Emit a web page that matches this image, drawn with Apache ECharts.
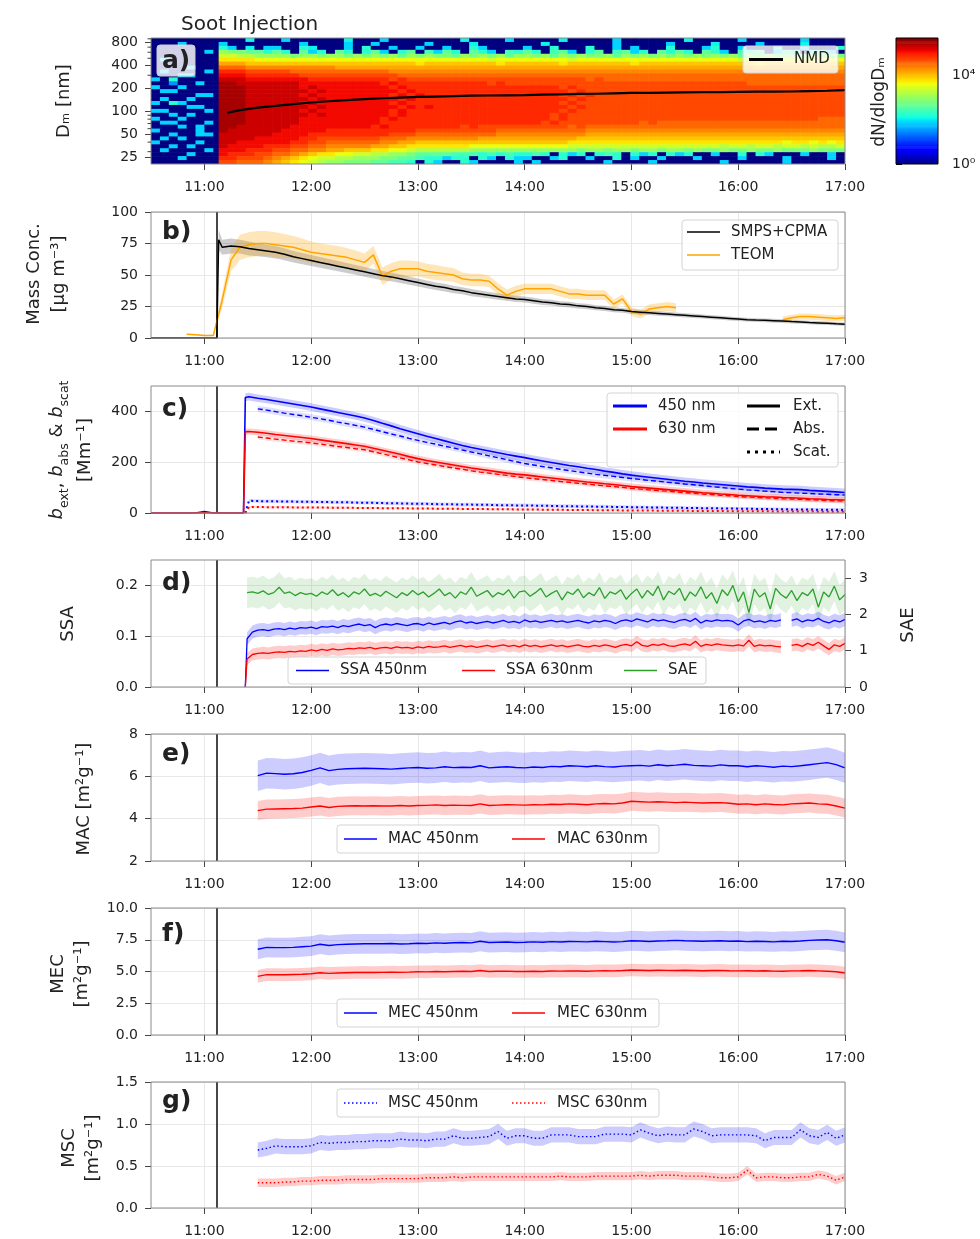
<!DOCTYPE html>
<html><head><meta charset="utf-8"><title>Soot injection</title>
<script src="https://cdn.jsdelivr.net/npm/echarts@6/dist/echarts.min.js"></script>
<style>html,body{margin:0;padding:0;background:#fff;}#chart{width:980px;height:1239px;}</style>
</head><body><div id="chart"></div>
<script>
// ================= DATA =================
const timeTickHours = [11, 12, 13, 14, 15, 16, 17];
const injectionTime = '11:07';

// a) dN/dlogDm map. Level chars: index/30 of the colour range (log10 value = index/30 * colorMaxLog).
// Rows from largest to smallest Dm; each row split by scan blocks:
// [10:30-11:05 (7 scans), 11:05-11:08 (1), then 70 scans 11:08-17:00: 6, 10, 18, 18, 18]
const heatPreStart = '10:30';
const heatPreStepMin = 5;
const heatGapEnd = '11:08';
const heatEnd = '17:00';
const heatSegmentScans = [7, 1, 6, 10, 18, 18, 18];
const sizeMinNm = 20.7;
const sizeMaxNm = 922;
const colorMaxLog = 5.66;
const levelChars = '0123456789ABCDEFGHIJKLMNOPQRSTU';
const heatLevels = [
 ['0000000','0','000B00','0A000000B0','00A00000000B0000A0','0000B00000A0000000','B00000A000000A0000'],
 ['000A000','0','A00000','000A0000A0','0A00000A0000B00000','00B0000000A00000A0','000B0000A0000B0000'],
 ['0000000','0','CA0B0A','A00CB000A0','C00A00A00A00CA0000','A00C000C00A0A000C0','00AC00A000C00A000C'],
 ['000000A','0','GFFEEC','EC0EAC0EC0','CEA0CE0DAEC0ECA0DC','EC0DEA0CE0DEAC0ECE','C0ECA0DCE0AEC0CEA0'],
 ['0000000','0','IIHHGG','GGFGGFGGFG','FGFGEGFGFFEGFGFGEG','GFGEGFGFFGEGFGFGFG','FGFGFGEGFGFFGEGFGF'],
 ['0A00000','0','KKKKJJ','JJJJJJJJJJ','JJJJJJJJJJJJJJIJJJ','JJJJJIJJJJJJJJJJJJ','JJJJJJIJJJJJJJJJJJ'],
 ['0000000','0','MMMLLL','LLLLLLLLLL','LLLLLLKLLLLLLLLKLL','LLLLKLLLLLLLKLLLLL','LLLLLLLLKLLLLLLLLL'],
 ['0000A00','0','OOONNN','NNNNNNNMMM','MMMMMMMMMMMMMMMMMM','MMMMMMMMMMMMMMMMMM','MMMMMMMMMMMMMMMMMM'],
 ['0A0000A','0','QQQPPP','PPOOOOOOOO','OOONNNNNNNNNNNNNNN','NNNNNNNNNNNNNNNNNN','NNNNNNNNNNNNNNNNNN'],
 ['000AA00','0','RRRQQQ','QQQPPPPPPP','PPPPOOOOOOOOOOOOOO','OOOOOOOOOOOOOOOOOO','OOOOOOOOOOOOOOOOOO'],
 ['A0C0000','0','SSSRRR','RRRRQQQQQQ','QQQPQPPPPPPPPPPPPP','PPPPPPPOPOOOOOOOOO','OOOOOOOOOOOOOOOOOO'],
 ['00800A0','0','TTSSSS','SSSRRRRRRR','RRQRQQQQQQQQQQPQPP','PPPPPPPPPPPPPPPPPP','PPPPPPPOOOOOOOOOOO'],
 ['A00A000','0','TTTSSS','SSSRSRRRRR','RRRQRQQQQQQQQQQQQQ','QQQQPQPPPPPPPPPPPP','PPPPPPPPPPPPPPPPPP'],
 ['0AA0000','0','TTTSSS','SSSSRSRRRR','RRRRQRQQQQQQQQQQQQ','QQQQQPQPPPPPPPPPPP','PPPPPPPPPPPPPPPPPP'],
 ['00000AA','0','TTTSSS','SSSRSRRRRR','RRRQRQRQQQQQQQQQQQ','QQQQPQPQPPPPPPPPPP','PPPPPPPPPPPPPPPPPP'],
 ['0A00A00','0','TTTSSS','SSSSRSRRRR','RRRRQRQQQQQQQQQQQQ','QQQQQPQPPPPPPPPPPP','PPPPPPPPPPPPPPPPPP'],
 ['A0CA000','0','TTTSSS','SSSRSRRRRR','RRRQRQQQQQQQQQQQQQ','QQQQPQPPPPPPPPPPPP','PPPPPPPPPPPPPPPPPP'],
 ['0000AA0','0','TTTSSS','SSSSRSRRRR','RRRRQRQRQQQQQQQQQQ','QQQQQPQPPPPPPPPPPP','PPPPPPPPPPPPPPPPPP'],
 ['AA0000A','0','TTTSSS','SSSRSRRRRR','RRRQRQQQQQQQQQQQQQ','QQQQPQPPPPPPPPPPPP','PPPPPPPPPPPPPPPPPP'],
 ['00A0A00','0','TTTSSS','SSSSRSRRRR','RRRQRQQQQQQQQQQQQQ','QQQPQPPPPPPPPPPPPP','PPPPPPPPPPPPPPPPPP'],
 ['A00A000','0','TTTSSS','SSSRRRRRRR','RRQRQQQQQQQQQQQQQQ','QQQPQPPPPPPPPPPPPP','PPPPPPPPPPPPPPPOOO'],
 ['0AA000A','0','TTTSSS','SSSRRRRRRR','RRQQQQQQQQQQQQQQQQ','QQPQPPPPPPPPPOPOOO','OOOOOOOOOOOOOOOOOO'],
 ['000A0A0','0','TTSSSS','SSRRRRRRRR','RQRQQQQQQQQPQPPPPP','PPPPPOPOOOOOOOOOOO','OOOOOOOOOOOOOOOOOO'],
 ['A0000A0','0','TSSSSS','SRRRRRQQQQ','QQQQQQPPPPPPPPPOOO','OOOOOOONNNNNNNNNNN','NNNNNNNNNNNNNNNNNN'],
 ['00A00AA','0','SSSSSS','RRRRQQQQQQ','QQQPPPOOOOOOOOONNN','NNNNNNNMMMMMMMMMMM','MMMMMMMMMMMMMMMMMM'],
 ['0A0A000','0','SSSSRR','RRRQQPPPPP','PPOOONNNNNNNNMMMMM','MMMMMMLLLLLLLLLLLL','LLLLLLLLLLLLLLLLLL'],
 ['A0000A0','0','SSRRRR','RRQQPPOOOO','OONNMMLLLLLLLLLLLL','LLLLLKKKKKKKKKKKKK','KKKKKKKKKKKJKKJKJK'],
 ['00A0A00','0','SRRRRQ','QQPPOONNNN','NMMLLKKKKKKKJJJJJJ','JJJJJIIIIIIIIIIIII','IIIIHIIHIIHIIHIHHI'],
 ['0A0000A','0','RRRQQQ','PPOONNMMLL','LKKJJIHHHHHHGGGGGG','GGGGGGFGGFGGFGGFGG','FGFFGFFGFFGFFFGFFF'],
 ['0000A00','0','RQQQPP','OONMLKKJJI','IHHGGFEEEEDDDCDCDC','CDC0CAC0CDC0CAC0CA','C00A00C0CA000A00A0'],
 ['000A000','0','QQPPPO','NMLKJIIHHG','GGFFEEDCCACC0CA0CA','A00AC00A00C0A00A00','0A0000A0000A0000A0'],
 ['0000000','0','PPOOON','MLKJIHGGFF','FEEDDC0CA00CA0000A','0A0000000A0000A000','0000A000000A000000']
];
const sizeTickLabels = [25, 50, 100, 200, 400, 800];
const sizeMinorTicks = [30, 40, 60, 70, 80, 90, 300, 500, 600, 700, 900];
const colorbarTicks = [0, 4];
const nmdFirstTime = '11:13';
const nmdFirst = 97;
const nmdStart = '11:20';
const nmdStepMin = 10;
const nmdNm = [105,113,119,126,
  132,137,142,146,150,153, 156,158,160,162,163,164, 165,167,169,171,172,174,
  176,177,178,179,180,181, 182,183,183,184,186,188, 192];

// b) mass concentration [ug m-3]
const smpsPreTimes = ['10:30', '11:07', '11:08'];
const smpsPre = [0, 0, 78];
const smpsPreSd = [0, 0, 8];
const smpsStart = '11:10';
const smpsStepMin = 5;
const smpsMass = [72,73,72.5,71,70,69,68,66.5,64.5,63,
  61.5,60,58.5,57,55.5,54,52.5,51,49.5,48.5,47,45.5,
  44,42.5,41,40,38.5,37.5,36,35,34,33,32,31,
  30.5,29.5,28.5,28,27,26.5,25.5,25,24,23.5,22.5,22,
  21,20.5,20,19.5,19,18.5,18,17.5,17,16.5,16,15.5,
  15,14.5,14.2,14,13.7,13.4,13,12.7,12.3,12,11.7,11.3, 11];
const smpsMassSd = [6,6,5.5,5.5,5.2,5,5,4.8,4.6,4.5,
  4.4,4.3,4.2,4.1,4,3.9,3.8,3.7,3.6,3.5,3.4,3.3,
  3.2,3.1,3,3,2.9,2.8,2.8,2.7,2.6,2.6,2.5,2.5,
  2.4,2.4,2.3,2.3,2.2,2.2,2.1,2.1,2,2,2,1.9,
  1.9,1.9,1.8,1.8,1.8,1.7,1.7,1.7,1.6,1.6,1.6,1.6,
  1.5,1.5,1.5,1.5,1.5,1.4,1.4,1.4,1.4,1.4,1.3,1.3, 1.3];
const teomStartA = '10:50';
const teomMassA = [3,2.5,
  2,2,30,62,72,74,75,75,74,73,72,70,
  68,67,66,65,64,62,60,66,49,53,55,55,
  55,53,52,51,50,47,46,46,45,39,34,37,
  39,39,39,39,37,35,35,34,34,34,27,31,
  21,19,23,24,25,24];
const teomSdA = [0.5,0.5,
  0.5,0.5,6,9,10,10,10,10,10,9.5,9,9,
  8.5,8,8,8,7.5,7.5,7,7,7,6.5,6.5,6.5,
  6,6,6,5.5,5.5,5,5,5,4.5,4.5,4.5,4.5,
  4,4,4,4,4,4,4,3.8,3.8,3.8,3.5,3.5,
  3.5,3.5,3.5,3.5,3.5,3.5];
const teomStartB = '16:25';
const teomMassB = [14.5,16,17,17,16.5,16,15.5,16];
const teomSdB = 2.5;

// c) extinction / absorption / scattering [Mm-1]
const cPreTimes = ['10:30','10:55','11:00','11:05','11:22','11:23'];
const bExt450Pre = [0,0,6,0,0,455];
const bExt630Pre = [0,0,1,0,0,320];
const cStart = '11:25';
const cAbsStart = '11:30';
const cStepMin = 5;
const bExt450 = [458,452,447,441,435,429,423,
  417,410,403,396,389,382,374,364,353,343,332,322,
  312,302,293,284,275,266,258,251,244,237,230,224,
  218,211,205,199,193,187,182,176,171,165,160,154,
  149,145,141,137,133,129,125,122,118,115,112,109,
  106,103,101,98,96,94,93,92,89,87,85,83, 81];
const bAbs450 = [410,405,399,393,388,383,
  377,371,365,358,352,345,338,329,320,311,303,294,
  286,278,271,263,256,248,240,233,225,218,210,202,
  195,189,183,178,172,167,162,157,152,148,144,140,
  136,132,128,125,121,118,114,111,108,104,101,97,
  94,91,89,86,84,81,80,78,77,75,74,72, 71];
const bExt630 = [321,318,314,309,305,301,297,
  293,288,283,278,273,268,263,255,247,239,231,222,
  214,207,201,195,189,183,177,172,167,162,157,153,
  150,146,142,138,134,130,126,122,119,115,112,108,
  104,101,98,95,92,89,86,83,80,78,75,73,
  70,68,66,64,63,61,60,58,56,55,53,52, 51];
const bAbs630 = [299,295,291,287,283,280,
  276,271,267,262,258,253,249,241,233,225,217,209,
  201,195,189,183,177,172,166,161,157,152,148,143,
  139,135,132,128,124,121,117,114,110,107,104,101,
  97,94,91,88,86,83,80,78,75,73,70,68,
  65,63,61,60,58,56,55,54,52,51,49,48, 47];
const bScat450 = [48,47,46,46,45,45,44,
  44,43,43,42,42,41,40,40,39,38,38,37,
  36,36,35,34,34,33,33,32,32,31,31,30,
  30,29,29,28,27,27,26,26,25,25,24,24,
  23,23,22,22,21,21,20,20,19,19,18,18,
  17,17,16,16,15,15,14,14,14,13,13,13, 12];
const bScat630 = [24,24,23,23,23,22,22,
  22,22,21,21,21,20,20,20,19,19,19,18,
  18,18,17,17,17,16,16,16,15,15,15,14,
  14,14,13,13,13,12,12,12,11,11,11,10,
  10,10,10,9,9,9,9,8,8,8,8,7,
  7,7,7,7,6,6,6,6,6,5,5,5, 5];
const sdExt450 = 15, sdAbs450 = 12, sdExt630 = 12, sdAbs630 = 10, sdScat450 = 7, sdScat630 = 5;

// d) SSA and SAE
const ssaPreTimes = ['11:23', '11:24'];
const ssa450Pre = [0, 0.095];
const ssa630Pre = [0, 0.055];
const saeFirstTime = '11:24';
const saeFirst = 2.60;
const dStart = '11:27';
const dStepMin = 3;
const ssa450 = [0.108,0.112,0.113,0.111,0.114,0.115,0.113,0.116,0.114,0.117,0.116,
  0.118,0.115,0.119,0.118,0.120,0.117,0.121,0.119,0.122,0.124,0.121,0.123,0.117,0.122,0.124,0.122,0.125,0.123,0.121,0.124,
  0.125,0.122,0.126,0.123,0.125,0.127,0.124,0.128,0.130,0.126,0.128,0.125,0.127,0.129,0.126,0.128,0.131,0.127,0.129,0.126,
  0.132,0.128,0.130,0.127,0.129,0.131,0.128,0.130,0.127,0.129,0.131,0.128,0.126,0.130,0.128,0.131,0.129,0.125,0.130,0.132,
  0.129,0.134,0.131,0.128,0.133,0.130,0.132,0.129,0.127,0.131,0.133,0.129,0.135,0.126,0.131,0.129,0.132,0.130,0.131,0.129,
  0.122,0.130,0.133,0.128,0.130,0.127,0.131,0.129,0.132,null,0.131,0.134,0.128,0.132,0.130,0.135,0.129,0.126,0.131,0.128,
  0.133];
const ssa630 = [0.064,0.066,0.067,0.066,0.068,0.069,0.068,0.070,0.069,0.071,0.070,
  0.073,0.071,0.074,0.072,0.075,0.073,0.074,0.076,0.075,0.077,0.076,0.078,0.075,0.077,0.078,0.076,0.079,0.077,0.078,0.076,
  0.079,0.077,0.080,0.078,0.079,0.081,0.078,0.080,0.082,0.079,0.081,0.078,0.080,0.082,0.079,0.081,0.083,0.080,0.082,0.079,
  0.083,0.080,0.082,0.079,0.081,0.083,0.080,0.082,0.079,0.081,0.083,0.080,0.079,0.082,0.080,0.083,0.081,0.078,0.082,0.084,
  0.081,0.089,0.082,0.080,0.084,0.082,0.085,0.081,0.080,0.083,0.085,0.082,0.090,0.080,0.084,0.082,0.085,0.083,0.082,0.081,
  0.083,0.081,0.092,0.080,0.083,0.081,0.082,0.080,0.079,null,0.082,0.084,0.080,0.086,0.082,0.088,0.081,0.074,0.083,0.080,
  0.086];
const sae = [2.62,2.58,2.65,2.55,2.60,2.75,2.58,2.62,2.52,2.60,2.55,
  2.58,2.50,2.62,2.55,2.68,2.52,2.60,2.48,2.62,2.56,2.70,2.52,2.58,2.50,2.64,2.55,2.46,2.60,2.52,2.66,
  2.54,2.62,2.48,2.58,2.70,2.52,2.60,2.45,2.62,2.55,2.75,2.50,2.58,2.66,2.48,2.60,2.54,2.68,2.45,2.62,
  2.65,2.50,2.60,2.72,2.48,2.58,2.66,2.40,2.62,2.55,2.70,2.46,2.60,2.52,2.74,2.44,2.62,2.56,2.68,2.42,
  2.58,2.70,2.45,2.66,2.52,2.78,2.40,2.64,2.55,2.72,2.38,2.62,2.50,2.76,2.44,2.60,2.30,2.68,2.52,2.80,
  2.35,2.62,2.05,2.70,2.48,2.60,2.15,2.72,2.55,2.45,2.66,2.38,2.60,2.52,2.70,2.20,2.62,2.48,2.78,2.40,
  2.55];
const sdSsa450 = 0.013, sdSsa630 = 0.012, sdSae = 0.42;

// e) f) g) mass cross sections [m2 g-1]
const efgStart = '11:30';
const efgStepMin = 5;
const mac450 = [6.03,6.15,6.13,6.1,6.12,6.18,
  6.28,6.4,6.27,6.33,6.36,6.37,6.38,6.37,6.36,6.34,6.37,6.4,
  6.42,6.38,6.4,6.45,6.41,6.43,6.42,6.5,6.4,6.43,6.45,6.42,
  6.4,6.44,6.42,6.47,6.45,6.5,6.48,6.45,6.5,6.46,6.44,6.48,
  6.5,6.52,6.48,6.55,6.5,6.53,6.57,6.52,6.5,6.48,6.54,6.5,
  6.5,6.45,6.5,6.47,6.43,6.48,6.46,6.5,6.55,6.6,6.65,6.55, 6.4];
const mac630 = [4.38,4.45,4.46,4.47,4.48,4.5,
  4.55,4.6,4.53,4.58,4.6,4.61,4.6,4.61,4.6,4.6,4.62,4.6,
  4.62,4.63,4.65,4.62,4.64,4.63,4.62,4.7,4.62,4.64,4.66,4.65,
  4.64,4.66,4.65,4.68,4.67,4.7,4.68,4.66,4.7,4.72,4.7,4.74,
  4.82,4.8,4.78,4.8,4.78,4.76,4.78,4.76,4.74,4.75,4.76,4.73,
  4.68,4.7,4.66,4.7,4.67,4.65,4.7,4.72,4.74,4.7,4.68,4.6, 4.5];
const mec450 = [6.75,6.9,6.88,6.88,6.9,6.95,
  7.0,7.15,7.05,7.12,7.15,7.17,7.18,7.18,7.18,7.2,7.16,7.18,
  7.22,7.2,7.25,7.22,7.26,7.28,7.25,7.38,7.28,7.3,7.32,7.28,
  7.3,7.33,7.3,7.35,7.32,7.36,7.35,7.33,7.38,7.35,7.32,7.35,
  7.42,7.4,7.36,7.4,7.42,7.45,7.42,7.4,7.38,7.4,7.42,7.38,
  7.4,7.35,7.38,7.36,7.33,7.38,7.36,7.4,7.45,7.48,7.5,7.42, 7.3];
const mec630 = [4.62,4.75,4.75,4.74,4.76,4.78,
  4.82,4.9,4.85,4.88,4.9,4.92,4.93,4.92,4.93,4.95,4.93,4.95,
  4.98,4.97,5.0,4.98,5.0,5.02,5.0,5.08,5.0,5.02,5.03,5.0,
  5.0,5.02,5.0,5.04,5.03,5.05,5.04,5.02,5.05,5.06,5.05,5.08,
  5.12,5.1,5.08,5.1,5.09,5.08,5.1,5.08,5.06,5.08,5.09,5.06,
  5.05,5.06,5.04,5.06,5.03,5.02,5.05,5.06,5.08,5.05,5.02,4.98, 4.88];
const msc450 = [0.69,0.71,0.74,0.73,0.73,0.73,
  0.74,0.78,0.77,0.78,0.78,0.79,0.79,0.80,0.80,0.80,0.82,0.81,
  0.81,0.80,0.82,0.82,0.86,0.83,0.83,0.84,0.85,0.91,0.83,0.86,
  0.86,0.83,0.83,0.87,0.87,0.87,0.85,0.85,0.85,0.88,0.88,0.88,
  0.87,0.93,0.89,0.86,0.88,0.87,0.87,0.94,0.91,0.86,0.87,0.87,
  0.87,0.87,0.86,0.80,0.84,0.84,0.84,0.93,0.86,0.84,0.90,0.83, 0.87];
const msc630 = [0.30,0.30,0.30,0.31,0.31,0.32,
  0.32,0.33,0.33,0.33,0.34,0.34,0.34,0.34,0.35,0.35,0.35,0.35,
  0.35,0.36,0.36,0.36,0.37,0.36,0.37,0.37,0.37,0.37,0.37,0.37,
  0.37,0.37,0.37,0.37,0.38,0.37,0.37,0.37,0.38,0.38,0.38,0.38,
  0.38,0.39,0.38,0.39,0.39,0.39,0.38,0.38,0.38,0.37,0.36,0.36,
  0.37,0.45,0.36,0.37,0.37,0.36,0.36,0.37,0.37,0.40,0.38,0.33, 0.37];
const sdMac450 = 0.72, sdMac630 = 0.45, sdMec450 = 0.78, sdMec630 = 0.5, sdMsc450 = 0.09, sdMsc630 = 0.05;

// ================= BUILD =================
const FONT = '"DejaVu Sans", "Liberation Sans", sans-serif';
const BLUE = '#0000ff', RED = '#ff0000', GREEN = '#2ca02c', ORANGE = '#ffa500', BLACK = '#000000';
function hm(s) { const p = s.split(':'); return +p[0] + (+p[1]) / 60; }
function timeGrid(start, stepMin, n) { const t0 = hm(start); const a = []; for (let i = 0; i < n; i++) a.push(t0 + i * stepMin / 60); return a; }
function zip(times, vals) { return vals.map((v, i) => [times[i], v]); }
function pm(vals, sd, sign) { return vals.map((v, i) => v == null ? null : v + sign * (Array.isArray(sd) ? sd[i] : sd)); }

function jet(t) {
  t = Math.max(0, Math.min(1, t));
  function seg(p) { for (let i = 1; i < p.length; i++) { if (t <= p[i][0]) { const a = p[i - 1], b = p[i]; return a[1] + (b[1] - a[1]) * (t - a[0]) / (b[0] - a[0]); } } return p[p.length - 1][1]; }
  const r = seg([[0, 0], [0.35, 0], [0.66, 1], [0.89, 1], [1, 0.5]]);
  const g = seg([[0, 0], [0.125, 0], [0.375, 1], [0.64, 1], [0.91, 0], [1, 0]]);
  const b = seg([[0, 0.5], [0.11, 1], [0.34, 1], [0.65, 0], [1, 0]]);
  return 'rgb(' + Math.round(r * 255) + ',' + Math.round(g * 255) + ',' + Math.round(b * 255) + ')';
}

function lineS(xi, yi, data, color, width, dash, extra) {
  return Object.assign({ type: 'line', xAxisIndex: xi, yAxisIndex: yi, data: data, symbol: 'none', showSymbol: false,
    connectNulls: false, clip: true, z: 5, silent: true, animation: false,
    lineStyle: { color: color, width: width, type: dash || 'solid' }, itemStyle: { color: color }, emphasis: { disabled: true } }, extra || {});
}
function bandS(xi, yi, times, lo, hi, fill) {
  const data = times.map((t, i) => [t, lo[i], hi[i]]);
  return { type: 'custom', xAxisIndex: xi, yAxisIndex: yi, data: data, clip: true, z: 2, silent: true, animation: false,
    encode: { x: 0, y: [1, 2] },
    renderItem: function (params, api) {
      if (params.dataIndex !== 0) return null;
      const segs = []; let cur = [];
      data.forEach(d => { if (d[1] == null || d[2] == null) { if (cur.length) segs.push(cur); cur = []; } else cur.push(d); });
      if (cur.length) segs.push(cur);
      return { type: 'group', children: segs.map(seg => {
        const top = seg.map(d => api.coord([d[0], d[2]]));
        const bot = seg.slice().reverse().map(d => api.coord([d[0], d[1]]));
        return { type: 'polygon', shape: { points: top.concat(bot) }, style: { fill: fill } };
      }) };
    } };
}
const injMark = { markLine: { symbol: ['none', 'none'], silent: true, animation: false, label: { show: false },
  emphasis: { disabled: true }, lineStyle: { color: '#1a1a1a', width: 1.6, type: 'solid' }, data: [{ xAxis: hm(injectionTime) }] } };

// grids
const L = 151, W = 694;
const gridDefs = [[38, 126], [212, 126], [386, 127], [560, 127], [734, 127], [908, 127], [1082, 126]];
const grids = gridDefs.map(g => ({ left: L, width: W, top: g[0], height: g[1], show: true, z: 10,
  borderColor: '#8a8a8a', borderWidth: 1, backgroundColor: 'transparent' }));
grids.push({ left: 896, width: 42, top: 38, height: 126, show: true, z: 10, borderColor: '#000', borderWidth: 1, backgroundColor: 'transparent' });

const labelBase = { fontSize: 14, color: '#222', fontFamily: FONT, margin: 13 };
const tickBase = { show: true, length: 6, lineStyle: { color: '#444', width: 1 } };
const xAxes = gridDefs.map((g, i) => ({ type: 'value', gridIndex: i, min: hm('10:30'), max: hm('17:00'),
  axisLine: { show: false },
  axisTick: Object.assign({}, tickBase, { customValues: timeTickHours }),
  axisLabel: Object.assign({}, labelBase, { margin: 16, customValues: timeTickHours, formatter: v => Math.round(v) + ':00' }),
  splitLine: { show: i > 0, lineStyle: { color: '#e8e8e8', width: 1 } } }));
xAxes.push({ type: 'value', gridIndex: 7, min: 0, max: 1, show: false });

function yAx(gi, o) {
  const lab = Object.assign({}, labelBase, o.label || {});
  const tick = Object.assign({}, tickBase);
  if (o.ticks) { lab.customValues = o.ticks; tick.customValues = o.ticks; }
  if (o.fmt) lab.formatter = o.fmt;
  const a = { type: 'value', gridIndex: gi, min: o.min, max: o.max, position: o.position || 'left',
    axisLine: { show: false }, axisTick: tick, axisLabel: lab,
    splitLine: { show: o.split !== false, lineStyle: { color: '#e8e8e8', width: 1 } } };
  if (o.interval) a.interval = o.interval;
  return a;
}
const supDigits = { '0': '⁰', '1': '¹', '2': '²', '3': '³', '4': '⁴', '5': '⁵' };
const yAxes = [
  yAx(0, { min: Math.log10(sizeMinNm), max: Math.log10(sizeMaxNm), ticks: sizeTickLabels.map(Math.log10), fmt: v => String(Math.round(Math.pow(10, v))), split: false }),
  yAx(1, { min: 0, max: 100, interval: 25 }),
  yAx(2, { min: 0, max: 500, ticks: [0, 200, 400] }),
  yAx(3, { min: 0, max: 0.25, ticks: [0, 0.1, 0.2], fmt: v => v.toFixed(1) }),
  yAx(3, { min: 0, max: 3.5, ticks: [0, 1, 2, 3], position: 'right', split: false, label: { margin: 14 } }),
  yAx(4, { min: 2, max: 8, interval: 2 }),
  yAx(5, { min: 0, max: 10, interval: 2.5, fmt: v => v.toFixed(1) }),
  yAx(6, { min: 0, max: 1.5, interval: 0.5, fmt: v => v.toFixed(1) }),
  yAx(7, { min: 0, max: colorMaxLog, ticks: colorbarTicks, position: 'right', split: false, fmt: v => '10' + supDigits[String(Math.round(v))], label: { margin: 14 } })
];
yAxes[8].axisTick.lineStyle = { color: '#000', width: 1 };

const series = [];

// ---- a) heatmap
const logMin = Math.log10(sizeMinNm), logMax = Math.log10(sizeMaxNm), binW = (logMax - logMin) / heatLevels.length;
const colEdges = [];
for (let k = 0; k < heatSegmentScans[0] + 1; k++) colEdges.push(hm(heatPreStart) + k * heatPreStepMin / 60);
const postCount = heatSegmentScans.slice(2).reduce((a, b) => a + b, 0);
const postT0 = hm(heatGapEnd), postDt = (hm(heatEnd) - postT0) / postCount;
for (let k = 0; k <= postCount; k++) colEdges.push(postT0 + k * postDt);
const nLevels = levelChars.length - 1;
const heatCells = [];
heatLevels.forEach((segs, r) => {
  const row = segs.map((s, k) => { let x = s; while (x.length < heatSegmentScans[k]) x += s[s.length - 1]; return x.slice(0, heatSegmentScans[k]); }).join('');
  const hi = logMax - r * binW, lo = hi - binW;
  for (let c = 0; c < row.length; c++) {
    const lvl = Math.max(0, levelChars.indexOf(row[c])) / nLevels * colorMaxLog;
    heatCells.push([colEdges[c], colEdges[c + 1], lo, hi, lvl]);
  }
});
series.push({ type: 'custom', xAxisIndex: 0, yAxisIndex: 0, data: heatCells, clip: true, z: 1, silent: true, animation: false, progressive: 0,
  encode: { x: [0, 1], y: [2, 3] },
  renderItem: function (params, api) {
    const p0 = api.coord([api.value(0), api.value(3)]);
    const p1 = api.coord([api.value(1), api.value(2)]);
    return { type: 'rect', shape: { x: p0[0], y: p0[1], width: p1[0] - p0[0] + 0.6, height: p1[1] - p0[1] + 0.6 },
      style: { fill: jet(api.value(4) / colorMaxLog) } };
  } });
// minor ticks of size axis
series.push({ type: 'custom', xAxisIndex: 0, yAxisIndex: 0, data: sizeMinorTicks.map(d => [hm('10:30'), Math.log10(d)]), clip: false, z: 11, silent: true, animation: false,
  renderItem: function (params, api) {
    const p = api.coord([api.value(0), api.value(1)]);
    return { type: 'line', shape: { x1: p[0] - 3.5, y1: p[1], x2: p[0], y2: p[1] }, style: { stroke: '#444', lineWidth: 1 } };
  } });
const nmdTimes = [hm(nmdFirstTime)].concat(timeGrid(nmdStart, nmdStepMin, nmdNm.length));
series.push(lineS(0, 0, zip(nmdTimes, [nmdFirst].concat(nmdNm).map(Math.log10)), BLACK, 2.2));

// colorbar
const cbN = 120;
const cbData = []; for (let i = 0; i < cbN; i++) cbData.push([i * colorMaxLog / cbN, (i + 1) * colorMaxLog / cbN]);
series.push({ type: 'custom', xAxisIndex: 7, yAxisIndex: 8, data: cbData, clip: true, z: 1, silent: true, animation: false,
  encode: { y: [0, 1] },
  renderItem: function (params, api) {
    const p0 = api.coord([0, api.value(1)]); const p1 = api.coord([1, api.value(0)]);
    return { type: 'rect', shape: { x: p0[0], y: p0[1], width: p1[0] - p0[0], height: p1[1] - p0[1] + 0.6 },
      style: { fill: jet((api.value(0) + api.value(1)) / 2 / colorMaxLog) } };
  } });

// ---- b) mass
const smpsTimes = smpsPreTimes.map(hm).concat(timeGrid(smpsStart, smpsStepMin, smpsMass.length));
const smpsVals = smpsPre.concat(smpsMass), smpsSd = smpsPreSd.concat(smpsMassSd);
const smpsBandT = smpsTimes.slice(2), smpsBandV = smpsVals.slice(2), smpsBandSd = smpsSd.slice(2);
series.push(bandS(1, 1, smpsBandT, pm(smpsBandV, smpsBandSd, -1), pm(smpsBandV, smpsBandSd, 1), 'rgba(0,0,0,0.2)'));
const teomTA = timeGrid(teomStartA, 5, teomMassA.length), teomTB = timeGrid(teomStartB, 5, teomMassB.length);
series.push(bandS(1, 1, teomTA, pm(teomMassA, teomSdA, -1), pm(teomMassA, teomSdA, 1), 'rgba(255,165,0,0.28)'));
series.push(bandS(1, 1, teomTB, pm(teomMassB, teomSdB, -1), pm(teomMassB, teomSdB, 1), 'rgba(255,165,0,0.28)'));
series.push(lineS(1, 1, zip(teomTA, teomMassA), ORANGE, 1.5));
series.push(lineS(1, 1, zip(teomTB, teomMassB), ORANGE, 1.5));
series.push(lineS(1, 1, zip(smpsTimes, smpsVals), BLACK, 1.5, null, injMark));

// ---- c) optical coefficients
const cT = timeGrid(cStart, cStepMin, bExt450.length), cTA = timeGrid(cAbsStart, cStepMin, bAbs450.length);
const cPreT = cPreTimes.map(hm);
const ext450T = [cPreT[5]].concat(cT), ext450V = [bExt450Pre[5]].concat(bExt450);
const ext630V = [bExt630Pre[5]].concat(bExt630);
series.push(bandS(2, 2, ext450T, pm(ext450V, sdExt450, -1), pm(ext450V, sdExt450, 1), 'rgba(0,0,255,0.2)'));
series.push(bandS(2, 2, cTA, pm(bAbs450, sdAbs450, -1), pm(bAbs450, sdAbs450, 1), 'rgba(0,0,255,0.12)'));
series.push(bandS(2, 2, ext450T, pm(ext630V, sdExt630, -1), pm(ext630V, sdExt630, 1), 'rgba(255,0,0,0.2)'));
series.push(bandS(2, 2, cTA, pm(bAbs630, sdAbs630, -1), pm(bAbs630, sdAbs630, 1), 'rgba(255,0,0,0.12)'));
series.push(bandS(2, 2, cT, pm(bScat450, sdScat450, -1), pm(bScat450, sdScat450, 1), 'rgba(0,0,255,0.15)'));
series.push(bandS(2, 2, cT, pm(bScat630, sdScat630, -1), pm(bScat630, sdScat630, 1), 'rgba(255,0,0,0.15)'));
series.push(lineS(2, 2, zip(cPreT.concat(cT), bExt450Pre.concat(bExt450)), BLUE, 1.6, null, injMark));
series.push(lineS(2, 2, zip(cPreT.concat(cT), bExt630Pre.concat(bExt630)), RED, 1.6));
series.push(lineS(2, 2, zip(cTA, bAbs450), BLUE, 1.4, [5, 3]));
series.push(lineS(2, 2, zip(cTA, bAbs630), RED, 1.4, [5, 3]));
series.push(lineS(2, 2, zip([cPreT[5]].concat(cT), [0].concat(bScat450)), BLUE, 2, [2, 3]));
series.push(lineS(2, 2, zip([cPreT[5]].concat(cT), [0].concat(bScat630)), RED, 2, [2, 3]));

// ---- d) SSA / SAE
const dT = timeGrid(dStart, dStepMin, ssa450.length);
const ssaPreT = ssaPreTimes.map(hm);
const saeT = [hm(saeFirstTime)].concat(dT), saeV = [saeFirst].concat(sae);
series.push(bandS(3, 4, saeT, pm(saeV, sdSae, -1), pm(saeV, sdSae, 1), 'rgba(44,160,44,0.14)'));
const s450T = [ssaPreT[1]].concat(dT), s450V = [ssa450Pre[1]].concat(ssa450), s630V = [ssa630Pre[1]].concat(ssa630);
series.push(bandS(3, 3, s450T, pm(s450V, sdSsa450, -1), pm(s450V, sdSsa450, 1), 'rgba(0,0,255,0.2)'));
series.push(bandS(3, 3, s450T, pm(s630V, sdSsa630, -1), pm(s630V, sdSsa630, 1), 'rgba(255,0,0,0.2)'));
series.push(lineS(3, 4, zip(saeT, saeV), GREEN, 1.3));
series.push(lineS(3, 3, zip(ssaPreT.concat(dT), ssa450Pre.concat(ssa450)), BLUE, 1.3, null, injMark));
series.push(lineS(3, 3, zip(ssaPreT.concat(dT), ssa630Pre.concat(ssa630)), RED, 1.3));

// ---- e) f) g)
const eT = timeGrid(efgStart, efgStepMin, mac450.length);
function pair(gi, yi, v450, sd450, v630, sd630, dash) {
  series.push(bandS(gi, yi, eT, pm(v450, sd450, -1), pm(v450, sd450, 1), 'rgba(0,0,255,0.2)'));
  series.push(bandS(gi, yi, eT, pm(v630, sd630, -1), pm(v630, sd630, 1), 'rgba(255,0,0,0.2)'));
  series.push(lineS(gi, yi, zip(eT, v450), BLUE, 1.4, dash, injMark));
  series.push(lineS(gi, yi, zip(eT, v630), RED, 1.4, dash));
}
pair(4, 5, mac450, sdMac450, mac630, sdMac630, null);
pair(5, 6, mec450, sdMec450, mec630, sdMec630, null);
pair(6, 7, msc450, sdMsc450, msc630, sdMsc630, [1.5, 2.5]);

// ================= TEXT / LEGENDS =================
const G = [];
function txt(x, y, text, size, o) {
  o = o || {};
  const st = { text: text, fill: '#222', font: (o.bold ? 'bold ' : '') + size + 'px ' + FONT,
    textAlign: o.align || 'left', align: o.align || 'left', textVerticalAlign: 'middle', verticalAlign: 'middle' };
  if (o.lh) st.lineHeight = o.lh;
  if (o.rich) st.rich = o.rich;
  G.push({ type: 'text', x: x, y: y, rotation: o.rot || 0, z: 100, silent: true, style: st });
}
function box(x, y, w, h, fill, stroke) { G.push({ type: 'rect', z: 99, silent: true, shape: { x: x, y: y, width: w, height: h, r: 3 }, style: { fill: fill || 'rgba(255,255,255,0.8)', stroke: stroke || '#d4d4d4', lineWidth: 1 } }); }
function lg(x1, x2, y, color, width, dash) { G.push({ type: 'line', z: 100, silent: true, shape: { x1: x1, y1: y, x2: x2, y2: y }, style: { stroke: color, lineWidth: width, lineDash: dash || null } }); }
const R = Math.PI / 2;

txt(181, 25, 'Soot Injection', 20);
// y titles
txt(64, 101, 'Dₘ [nm]', 18, { rot: R, align: 'center' });
txt(880, 102, 'dN/dlogDₘ', 17, { rot: R, align: 'center' });
txt(47, 274, 'Mass Conc.\n[μg m⁻³]', 18, { rot: R, align: 'center', lh: 25 });
txt(71, 450, '{i|b}{s|ext}{n|, }{i|b}{s|abs}{n| & }{i|b}{s|scat}\n{n|[Mm⁻¹]}', 18, { rot: R, align: 'center', lh: 28,
  rich: { i: { fontSize: 18, fontStyle: 'italic', fontFamily: FONT, fill: '#222', lineHeight: 28 },
          n: { fontSize: 18, fontFamily: FONT, fill: '#222', lineHeight: 28 },
          s: { fontSize: 12.5, fontFamily: FONT, fill: '#222', lineHeight: 19, verticalAlign: 'bottom' } } });
txt(68, 624, 'SSA', 18, { rot: R, align: 'center' });
txt(908, 625, 'SAE', 18, { rot: R, align: 'center' });
txt(84, 799, 'MAC [m²g⁻¹]', 18, { rot: R, align: 'center' });
txt(70, 974, 'MEC\n[m²g⁻¹]', 18, { rot: R, align: 'center', lh: 24 });
txt(81, 1148, 'MSC\n[m²g⁻¹]', 18, { rot: R, align: 'center', lh: 24 });
// panel labels
box(157, 45, 38, 31, 'rgba(255,255,255,0.82)', '#cccccc');
txt(162, 61, 'a)', 25, { bold: true });
txt(162, 232, 'b)', 25, { bold: true });
txt(162, 409, 'c)', 25, { bold: true });
txt(162, 583, 'd)', 25, { bold: true });
txt(162, 754, 'e)', 25, { bold: true });
txt(162, 934, 'f)', 25, { bold: true });
txt(162, 1101, 'g)', 25, { bold: true });
// legend a
box(743, 46, 95, 27);
lg(749, 783, 59.5, BLACK, 3); txt(794, 59.5, 'NMD', 15);
// legend b
box(682, 220, 156, 50);
lg(687, 720, 232, BLACK, 1.5); txt(731, 232, 'SMPS+CPMA', 15);
lg(687, 720, 255, ORANGE, 1.5); txt(731, 255, 'TEOM', 15);
// legend c
box(607, 393, 231, 74);
lg(613, 647, 406, BLUE, 3); txt(658, 406, '450 nm', 15);
lg(613, 647, 429, RED, 3); txt(658, 429, '630 nm', 15);
lg(747, 780, 406, BLACK, 3); txt(793, 406, 'Ext.', 15);
lg(747, 780, 429, BLACK, 3, [12, 6]); txt(793, 429, 'Abs.', 15);
lg(747, 780, 452, BLACK, 3, [3, 5]); txt(793, 452, 'Scat.', 15);
// legend d
box(288, 657, 418, 27);
lg(296, 329, 670.5, BLUE, 1.5); txt(340, 670.5, 'SSA 450nm', 15);
lg(462, 495, 670.5, RED, 1.5); txt(506, 670.5, 'SSA 630nm', 15);
lg(624, 657, 670.5, GREEN, 1.5); txt(668, 670.5, 'SAE', 15);
// legend e
box(337, 825, 322, 28);
lg(344, 377, 839, BLUE, 1.5); txt(388, 839, 'MAC 450nm', 15);
lg(512, 545, 839, RED, 1.5); txt(557, 839, 'MAC 630nm', 15);
// legend f
box(337, 999, 322, 28);
lg(344, 377, 1013, BLUE, 1.5); txt(388, 1013, 'MEC 450nm', 15);
lg(512, 545, 1013, RED, 1.5); txt(557, 1013, 'MEC 630nm', 15);
// legend g
box(337, 1089, 322, 28);
lg(344, 377, 1103, BLUE, 1.5, [1.5, 2.5]); txt(388, 1103, 'MSC 450nm', 15);
lg(512, 545, 1103, RED, 1.5, [1.5, 2.5]); txt(557, 1103, 'MSC 630nm', 15);

const chart = echarts.init(document.getElementById('chart'), null, { renderer: 'canvas' });
chart.setOption({
  animation: false,
  backgroundColor: '#ffffff',
  textStyle: { fontFamily: FONT },
  grid: grids, xAxis: xAxes, yAxis: yAxes, series: series,
  graphic: { elements: G }
});
</script></body></html>
